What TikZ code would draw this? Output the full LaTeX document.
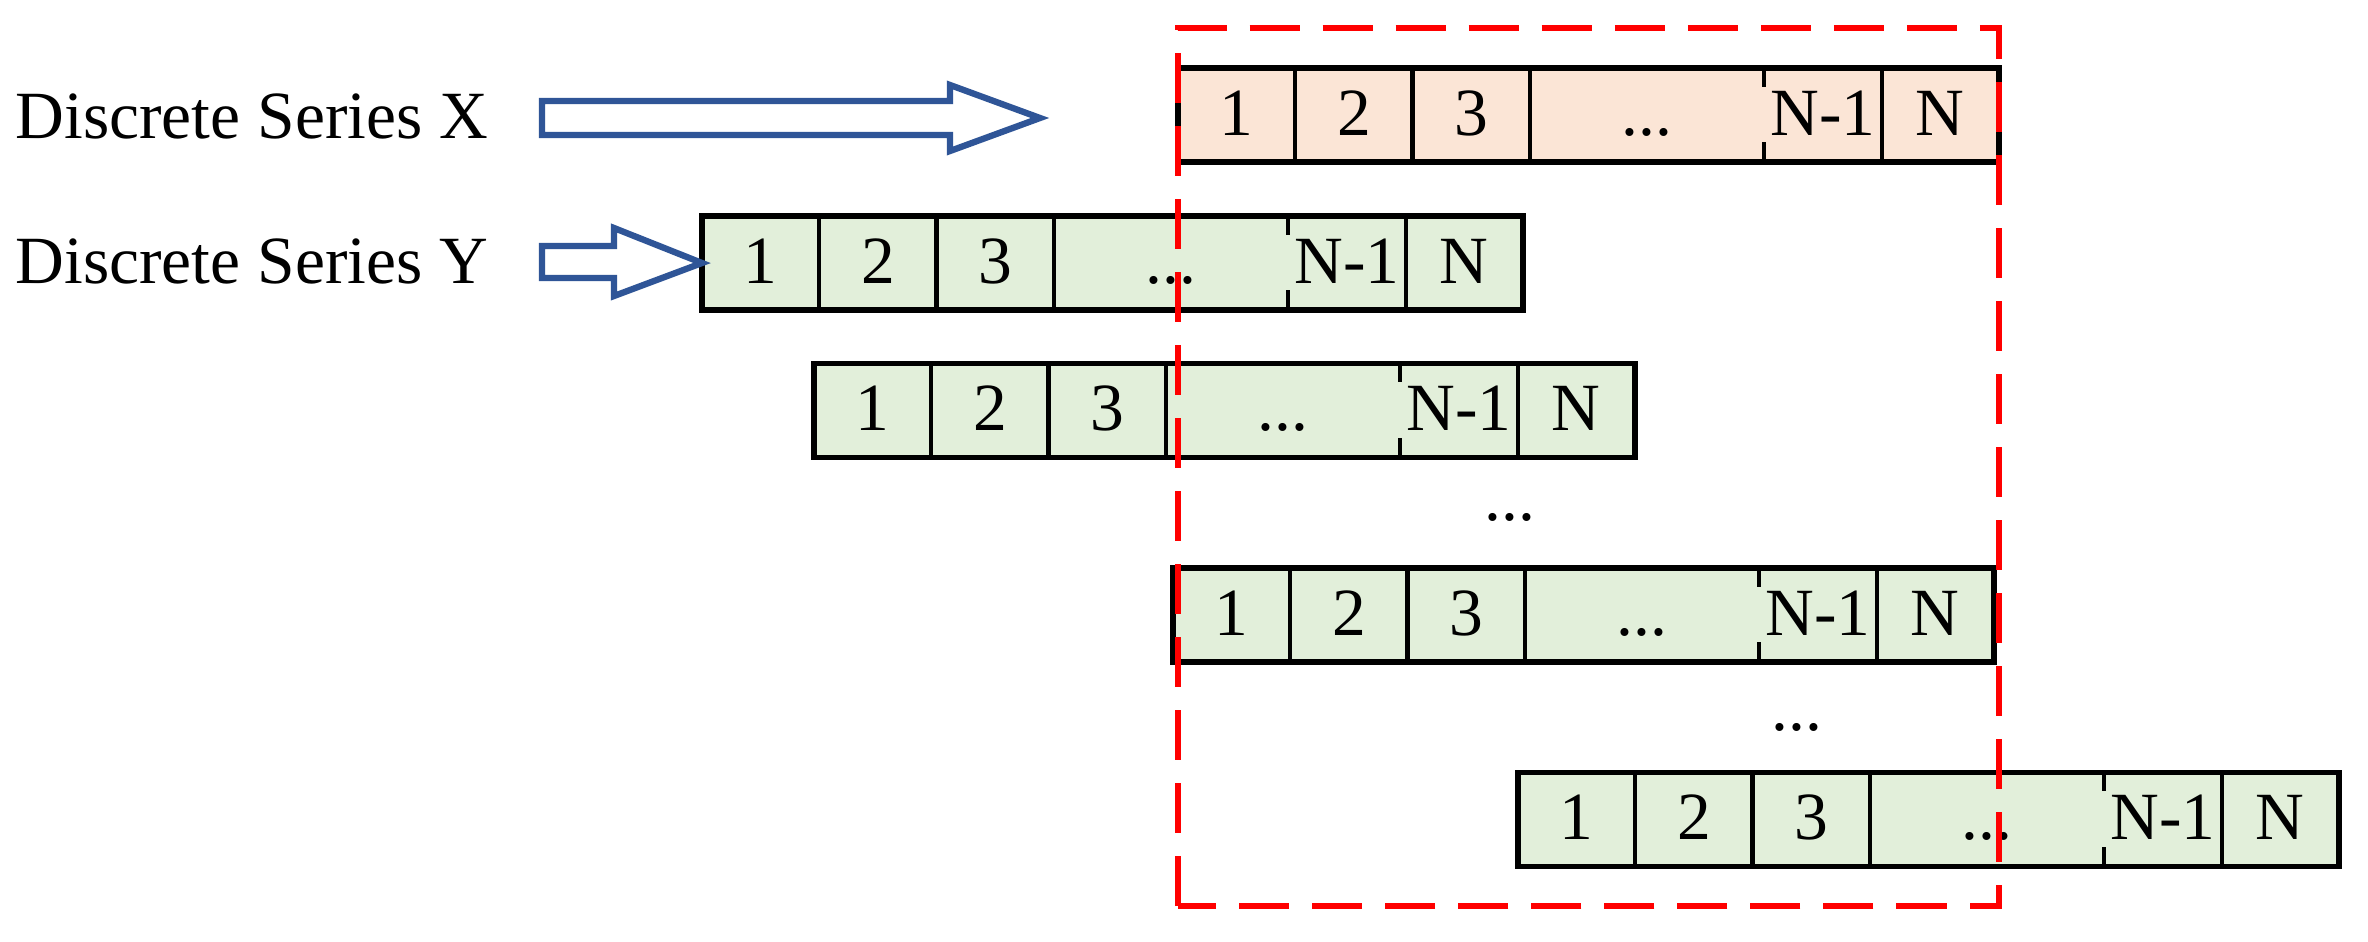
\documentclass[tikz,border=0pt]{standalone}
\usepackage{fontspec}
\setmainfont{Liberation Serif}
\definecolor{peach}{HTML}{FBE5D6}
\definecolor{cellgreen}{HTML}{E2EFDA}
\definecolor{arrowblue}{HTML}{2F5597}
\definecolor{boxred}{HTML}{FF0000}
\tikzset{
  cellbox/.style={minimum width=1.172cm, minimum height=0.94cm, inner sep=0pt, outer sep=0pt,
    text height=0.46cm, text depth=0.06cm, anchor=west},
  sepline/.style={line width=1.2pt, black},
  outline/.style={line width=1.5pt, black},
  blockarrow/.style={draw=arrowblue, fill=white, line width=1.8pt, line join=miter},
  redframe/.style={draw=boxred, line width=1.8pt, dash pattern=on 0.5cm off 0.23cm},
  label/.style={anchor=base west, inner sep=0pt},
  dotsnode/.style={anchor=base, inner sep=0pt}
}
\newcommand\seqrow[4]{%
  \node[cellbox,fill=#4] (#1-1) at (#2,#3) {1};
  \node[cellbox,fill=#4] (#1-2) at (#1-1.east) {2};
  \node[cellbox,fill=#4] (#1-3) at (#1-2.east) {3};
  \node[cellbox,fill=#4,minimum width=2.344cm] (#1-e) at (#1-3.east) {...};
  \node[cellbox,fill=#4] (#1-m) at (#1-e.east) {N-1};
  \node[cellbox,fill=#4] (#1-n) at (#1-m.east) {N};
  \draw[sepline] (#1-1.north east) -- (#1-1.south east)
                 (#1-2.north east) -- (#1-2.south east)
                 (#1-3.north east) -- (#1-3.south east)
                 (#1-m.north east) -- (#1-m.south east);
  \draw[sepline] (#1-e.north east) -- ++(0,19) (#1-e.south east) -- ++(0,-20);
  \draw[outline] (#1-1.north west) rectangle (#1-n.south east);
}
\begin{document}
\begin{tikzpicture}[x=0.01cm,y=-0.01cm,
  every node/.append style={font=\fontsize{19.2}{23}\selectfont}]
\useasboundingbox (0,0) rectangle (2368,942);

% labels
\node[label] (lx) at (15,138) {Discrete Series X};
\node[label] (ly) at (15,283) {Discrete Series Y};

% rows
\seqrow{sx}{1178}{115}{peach}
\seqrow{sy}{702}{263}{cellgreen}
\seqrow{rb}{814}{410.5}{cellgreen}
\seqrow{rc}{1173}{615}{cellgreen}
\seqrow{rd}{1518}{819.5}{cellgreen}

% dots between rows
\node[dotsnode] (d1) at (1510,520) {...};
\node[dotsnode] (d2) at (1797,730) {...};

% block arrows
\draw[blockarrow] (542,101) -- (950,101) -- (950,85) -- (1040,118)
   -- (950,151) -- (950,135) -- (542,135) -- cycle;
\coordinate (ytip) at (sy-1.west);
\draw[blockarrow] (542,246) -- (614,246) -- (614,228) -- (ytip)
   -- (614,296) -- (614,278) -- (542,278) -- cycle;

% red dashed frame
\draw[redframe] (1178,906) rectangle (1999,28);
\end{tikzpicture}
\end{document}
